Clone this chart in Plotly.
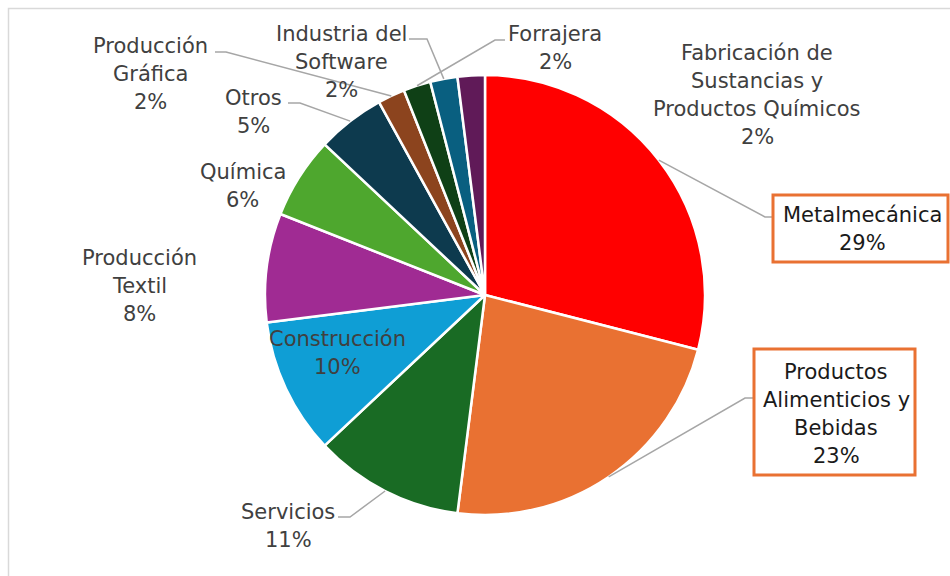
import math
import plotly.graph_objects as go

# ---- data ----
categories = [
    "Metalmecánica",
    "Productos Alimenticios y Bebidas",
    "Servicios",
    "Construcción",
    "Producción Textil",
    "Química",
    "Otros",
    "Producción Gráfica",
    "Forrajera",
    "Industria del Software",
    "Fabricación de Sustancias y Productos Químicos",
]
values = [29, 23, 11, 10, 8, 6, 5, 2, 2, 2, 2]
label_lines = [
    ["Metalmecánica"],
    ["Productos", "Alimenticios y", "Bebidas"],
    ["Servicios"],
    ["Construcción"],
    ["Producción", "Textil"],
    ["Química"],
    ["Otros"],
    ["Producción", "Gráfica"],
    ["Forrajera"],
    ["Industria del", "Software"],
    ["Fabricación de", "Sustancias y", "Productos Químicos"],
]
colors = ["#FF0000", "#E97132", "#196B24", "#0F9ED5", "#A02B93", "#4EA72E",
          "#0D3A4E", "#8C441E", "#0F4016", "#095F80", "#601A58"]

# ---- layout (pixels, window coordinates) ----
W, H = 950, 576
CX, CY, R = 485, 295, 220
LINE_H = 28
# (centre x, first line centre y)
label_pos = [
    (862, 215), (836, 372), (288, 512), (337, 339), (139, 258), (243, 172),
    (253, 98), (150, 46), (555, 34), (341, 34), (757, 53),
]
leaders = [
    ((765, 217), (773, 217)),
    ((745, 398), (754, 398)),
    ((350, 517), (338, 517)),
    None, None, None,
    ((300, 103), (288, 103)),
    ((226, 52), (215, 52)),
    ((495, 40), (505, 40)),
    ((427, 39), (409, 39)),
    None,
]
boxed = {0: (773, 195, 948, 262), 1: (754, 349, 915, 475)}


def px(x):
    return x / W


def py(y):
    return 1 - y / H


total = sum(values)
percents = [round(v * 100 / total) for v in values]

fig = go.Figure(go.Pie(
    labels=categories,
    values=values,
    sort=False,
    direction="clockwise",
    rotation=0,
    textinfo="none",
    hoverinfo="label+percent",
    marker=dict(colors=colors, line=dict(color="white", width=2.5)),
    domain=dict(x=[px(CX - R), px(CX + R)], y=[py(CY + R), py(CY - R)]),
    showlegend=False,
))

shapes = []
annotations = []

shapes.append(dict(type="rect", xref="paper", yref="paper",
                   x0=px(8.5), x1=px(990), y0=py(600), y1=py(8.5),
                   line=dict(color="#D9D9D9", width=1.5), layer="below"))

cum = 0
for i, v in enumerate(values):
    mid = (cum + v / 2) / total * 2 * math.pi
    cum += v
    sx = CX + R * math.sin(mid)
    sy = CY - R * math.cos(mid)
    if leaders[i] is not None:
        (ex, ey), (tx, ty) = leaders[i]
        path = f"M {px(sx)} {py(sy)} L {px(ex)} {py(ey)} L {px(tx)} {py(ty)}"
        shapes.append(dict(type="path", xref="paper", yref="paper", path=path,
                           line=dict(color="#A6A6A6", width=1.5)))
    if i in boxed:
        x0, y0, x1, y1 = boxed[i]
        shapes.append(dict(type="rect", xref="paper", yref="paper",
                           x0=px(x0), x1=px(x1), y0=py(y1), y1=py(y0),
                           line=dict(color="#E97132", width=3),
                           fillcolor="white"))
    lines = label_lines[i] + [f"{percents[i]}%"]
    lx, ly = label_pos[i]
    for k, line in enumerate(lines):
        annotations.append(dict(
            x=px(lx), y=py(ly + k * LINE_H), xref="paper", yref="paper",
            text=line, showarrow=False, xanchor="center", yanchor="middle",
            font=dict(family="DejaVu Sans", size=21,
                      color="#1a1a1a" if i in boxed else "#404040"),
        ))

fig.update_layout(
    width=W, height=H,
    margin=dict(l=0, r=0, t=0, b=0),
    paper_bgcolor="white", plot_bgcolor="white",
    shapes=shapes, annotations=annotations,
)

fig.write_html(
    "out.html",
    config={"displayModeBar": False},
    post_script="document.body.style.margin='0';document.body.style.overflow='hidden';",
)
